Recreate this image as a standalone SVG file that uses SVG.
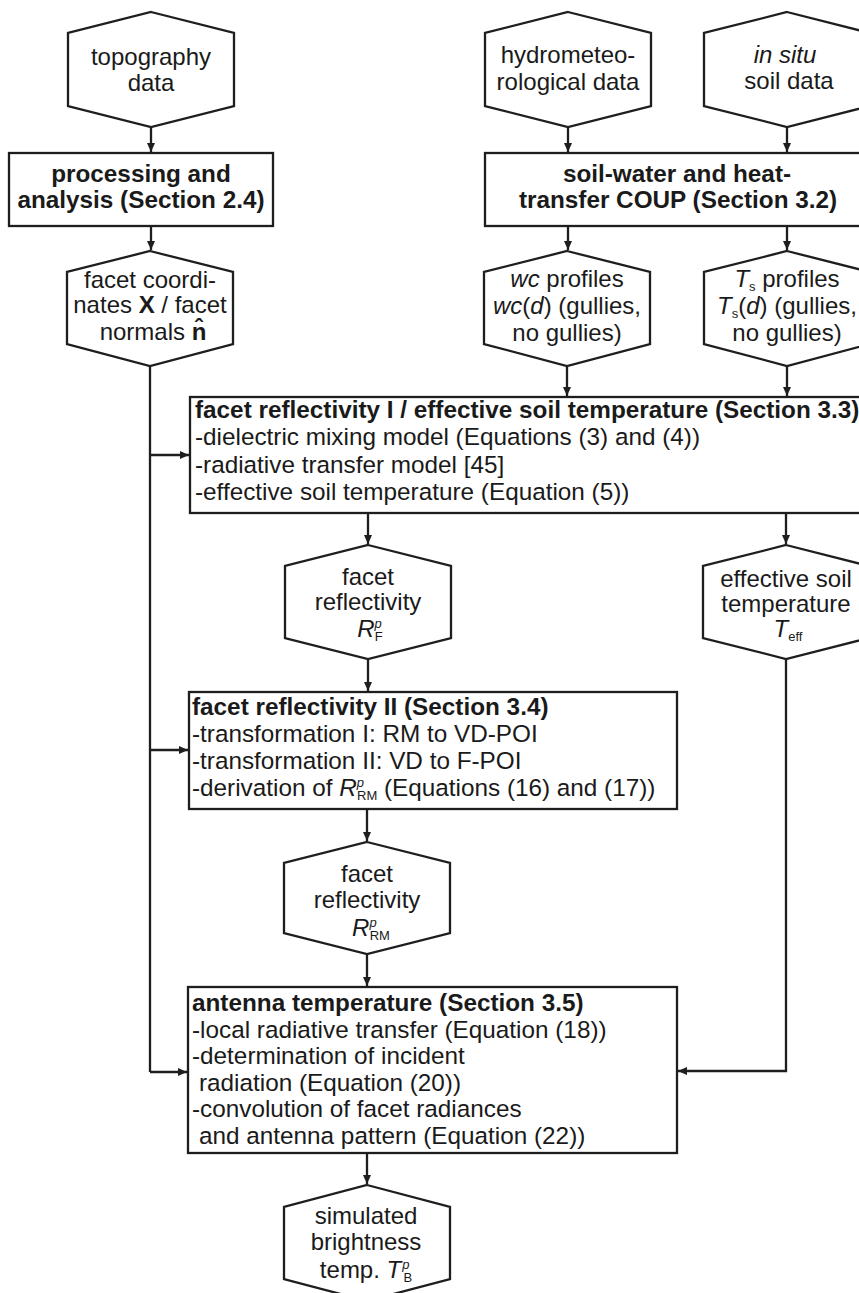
<svg xmlns="http://www.w3.org/2000/svg" width="859" height="1293" viewBox="0 0 859 1293">
<defs>
<style>
.shape{fill:#fff;stroke:#1e1e1e;stroke-width:2.3}
.con{fill:none;stroke:#1e1e1e;stroke-width:2.3}
text{font-family:"Liberation Sans",Arial,sans-serif;font-size:24px;fill:#1a1a1a}
.c{text-anchor:middle}
.b{font-weight:bold;font-size:24.3px}
.t{font-size:24.3px}
.i{font-style:italic}
.s{font-size:13px}
</style>
<marker id="arr" markerUnits="userSpaceOnUse" markerWidth="10" markerHeight="10" refX="9" refY="5" orient="auto">
<path d="M0,1 L9,5 L0,9 z" fill="#1e1e1e"/>
</marker>
</defs>
<rect width="859" height="1293" fill="#fff"/>

<g id="connectors">
<path class="con" d="M151,127 V152" marker-end="url(#arr)"/>
<path class="con" d="M568,127 V152" marker-end="url(#arr)"/>
<path class="con" d="M787,127 V152" marker-end="url(#arr)"/>
<path class="con" d="M151,226 V250" marker-end="url(#arr)"/>
<path class="con" d="M568,226 V250" marker-end="url(#arr)"/>
<path class="con" d="M787,226 V250" marker-end="url(#arr)"/>
<path class="con" d="M150,366 V1072"/>
<path class="con" d="M150,455 H189" marker-end="url(#arr)"/>
<path class="con" d="M150,750 H188" marker-end="url(#arr)"/>
<path class="con" d="M150,1072 H187" marker-end="url(#arr)"/>
<path class="con" d="M567,366 V396" marker-end="url(#arr)"/>
<path class="con" d="M787,366 V396" marker-end="url(#arr)"/>
<path class="con" d="M368,513 V544" marker-end="url(#arr)"/>
<path class="con" d="M786,513 V544" marker-end="url(#arr)"/>
<path class="con" d="M368,659 V691" marker-end="url(#arr)"/>
<path class="con" d="M367,809 V841" marker-end="url(#arr)"/>
<path class="con" d="M367,954 V986" marker-end="url(#arr)"/>
<path class="con" d="M786,659 V1071 H678" marker-end="url(#arr)"/>
<path class="con" d="M367,1153 V1184" marker-end="url(#arr)"/>
</g>

<g id="topography">
<polygon class="shape" points="151,12 234,33 234,106 151,127 68,106 68,33"/>
<text class="c" x="151" y="65">topography</text>
<text class="c" x="151" y="91">data</text>
</g>

<g id="hydro">
<polygon class="shape" points="568,12 651,33 651,106 568,127 485,106 485,33"/>
<text class="c" x="568" y="63">hydrometeo-</text>
<text class="c" x="568" y="90">rological data</text>
</g>

<g id="insitu">
<polygon class="shape" points="787,12 870,33 870,106 787,127 704,106 704,33"/>
<text class="c i" x="785" y="63">in situ</text>
<text class="c" x="789" y="89">soil data</text>
</g>

<g id="processing">
<rect class="shape" x="9" y="153" width="264" height="73"/>
<text class="c b" x="141" y="182">processing and</text>
<text class="c b" x="141" y="208">analysis (Section 2.4)</text>
</g>

<g id="coup">
<rect class="shape" x="485" y="153" width="380" height="73"/>
<text class="c b" x="677" y="182">soil-water and heat-</text>
<text class="c b" x="678" y="208">transfer COUP (Section 3.2)</text>
</g>

<g id="facetcoords">
<polygon class="shape" points="150,251 233,272 233,344 150,366 67,344 67,272"/>
<text class="c" x="150" y="288">facet coordi-</text>
<text class="c" x="150" y="313">nates <tspan font-weight="bold">X</tspan> / facet</text>
<text class="c" x="153" y="340">normals <tspan font-weight="bold">n̂</tspan></text>
</g>

<g id="wc">
<polygon class="shape" points="567,251 650,272 650,344 567,366 484,344 484,272"/>
<text class="c" x="567" y="287"><tspan class="i">wc</tspan> profiles</text>
<text class="c" x="567" y="314"><tspan class="i">wc</tspan>(<tspan class="i">d</tspan>) (gullies,</text>
<text class="c" x="567" y="341">no gullies)</text>
</g>

<g id="ts">
<polygon class="shape" points="787,251 870,272 870,344 787,366 704,344 704,272"/>
<text class="c" x="787" y="287"><tspan class="i">T</tspan><tspan class="s" dy="4">s</tspan><tspan dy="-4"> profiles</tspan></text>
<text class="c" x="787" y="314"><tspan class="i">T</tspan><tspan class="s" dy="4">s</tspan><tspan dy="-4">(</tspan><tspan class="i">d</tspan>) (gullies,</text>
<text class="c" x="787" y="341">no gullies)</text>
</g>

<g id="box1">
<rect class="shape" x="190" y="397" width="680" height="116"/>
<text class="b" x="195" y="418">facet reflectivity I / effective soil temperature (Section 3.3)</text>
<text class="t" x="195" y="445">-dielectric mixing model (Equations (3) and (4))</text>
<text class="t" x="195" y="472.5">-radiative transfer model [45]</text>
<text class="t" x="195" y="500">-effective soil temperature (Equation (5))</text>
</g>

<g id="rf">
<polygon class="shape" points="368,545 451,566 451,638 368,659 285,638 285,566"/>
<text class="c" x="368" y="585">facet</text>
<text class="c" x="368" y="610">reflectivity</text>
<text class="c" x="370" y="637"><tspan class="i">R</tspan><tspan class="s i" dy="-9">p</tspan><tspan class="s" dx="-7" dy="13">F</tspan></text>
</g>

<g id="teff">
<polygon class="shape" points="786,545 869,566 869,638 786,659 703,638 703,566"/>
<text class="c" x="786" y="587">effective soil</text>
<text class="c" x="786" y="612">temperature</text>
<text class="c" x="788" y="637"><tspan class="i">T</tspan><tspan class="s" dy="4">eff</tspan></text>
</g>

<g id="box2">
<rect class="shape" x="189" y="692" width="488" height="117"/>
<text class="b" x="192" y="715">facet reflectivity II (Section 3.4)</text>
<text class="t" x="192" y="742">-transformation I: RM to VD-POI</text>
<text class="t" x="192" y="769">-transformation II: VD to F-POI</text>
<text class="t" x="192" y="796">-derivation of <tspan class="i">R</tspan><tspan class="s i" dy="-9">p</tspan><tspan class="s" dx="-7" dy="13">RM</tspan><tspan dy="-4"> (Equations (16) and (17))</tspan></text>
</g>

<g id="rrm">
<polygon class="shape" points="367,842 450,863 450,933 367,954 284,933 284,863"/>
<text class="c" x="367" y="882">facet</text>
<text class="c" x="367" y="908">reflectivity</text>
<text class="c" x="371" y="936"><tspan class="i">R</tspan><tspan class="s i" dy="-9">p</tspan><tspan class="s" dx="-7" dy="13">RM</tspan></text>
</g>

<g id="antenna">
<rect class="shape" x="188" y="987" width="489" height="166"/>
<text class="b" x="192" y="1011">antenna temperature (Section 3.5)</text>
<text class="t" x="192" y="1037.5">-local radiative transfer (Equation (18))</text>
<text class="t" x="192" y="1064">-determination of incident</text>
<text class="t" x="199" y="1090.5">radiation (Equation (20))</text>
<text class="t" x="192" y="1117">-convolution of facet radiances</text>
<text class="t" x="199" y="1143.5">and antenna pattern (Equation (22))</text>
</g>

<g id="simulated">
<polygon class="shape" points="367,1185 450,1207 450,1279 367,1301 284,1279 284,1207"/>
<text class="c" x="366" y="1224">simulated</text>
<text class="c" x="366" y="1250">brightness</text>
<text class="c" x="366" y="1278">temp. <tspan class="i">T</tspan><tspan class="s i" dx="1" dy="-9">p</tspan><tspan class="s" dx="-6" dy="13">B</tspan></text>
</g>
</svg>
